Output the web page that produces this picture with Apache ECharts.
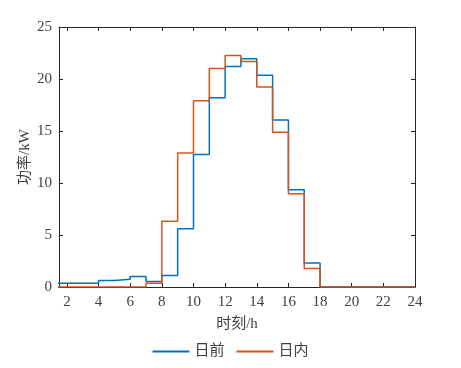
<!DOCTYPE html>
<html><head><meta charset="utf-8">
<script src="https://cdn.jsdelivr.net/npm/echarts@6/dist/echarts.min.js"></script>
<style>html,body{margin:0;padding:0;background:#fff}#c{width:461px;height:368px}</style>
</head><body><div id="c"></div>
<script>
// Hour start of each step (1..24)
var hours = [1,2,3,4,5,6,7,8,9,10,11,12,13,14,15,16,17,18,19,20,21,22,23,24];
var dayAhead = [0.35,0.35,0.35,0.62,0.74,1.0,0.52,1.1,5.6,12.75,18.2,21.2,21.94,20.37,16.06,9.35,2.3,0,0,0,0,0,0,0];
var intraDay = [0,0,0,0,0,0,0.36,6.33,12.88,17.9,21.0,22.25,21.68,19.24,14.87,8.96,1.77,0,0,0,0,0,0,0];
var xTicks = [2,4,6,8,10,12,14,16,18,20,22,24];
var yTicks = [0,5,10,15,20,25];
var seriesNames = ['日前','日内'];

function pairs(vals){ return hours.map(function(h,i){ return [h, vals[i]]; }); }
var serif = '"Liberation Serif","Times New Roman",serif';
var cjk = '"Liberation Serif","Noto Sans CJK SC",serif';
var axisCol = '#262626';

var chart = echarts.init(document.getElementById('c'), null, {renderer:'canvas'});
var gridPos = {left:59, right:46, top:27, bottom:81, containLabel:false};
chart.setOption({
  animation:false,
  grid: gridPos,
  legend:{
    data:seriesNames, bottom:4, left:'center', itemWidth:37, itemHeight:2, itemGap:12,
    icon:'rect',
    textStyle:{fontFamily:cjk, fontSize:15, color:'#404040'}
  },
  xAxis:[{
    type:'value', min:1.5, max:24,
    name:'时刻/h', nameLocation:'middle', nameGap:30,
    nameTextStyle:{fontFamily:cjk, fontSize:15, color:'#404040'},
    axisLine:{show:true, onZero:false, lineStyle:{color:axisCol, width:1}},
    axisTick:{show:true, inside:true, length:4, customValues:xTicks, lineStyle:{color:axisCol}},
    axisLabel:{customValues:xTicks, fontFamily:serif, fontSize:15, color:'#404040', margin:8},
    splitLine:{show:false}
  },{
    type:'value', min:1.5, max:24, position:'top',
    axisLine:{show:true, onZero:false, lineStyle:{color:axisCol, width:1}},
    axisTick:{show:true, inside:true, length:4, customValues:xTicks, lineStyle:{color:axisCol}},
    axisLabel:{show:false}, splitLine:{show:false}
  }],
  yAxis:[{
    type:'value', min:0, max:25, interval:5,
    name:'功率/kW', nameLocation:'middle', nameGap:26, nameRotate:90, nameMoveOverlap:false,
    nameTextStyle:{fontFamily:cjk, fontSize:15, color:'#404040'},
    axisLine:{show:true, lineStyle:{color:axisCol, width:1}},
    axisTick:{show:true, inside:true, length:4, lineStyle:{color:axisCol}},
    axisLabel:{fontFamily:serif, fontSize:15, color:'#404040', margin:7},
    splitLine:{show:false}
  },{
    type:'value', min:0, max:25, interval:5, position:'right',
    axisLine:{show:true, lineStyle:{color:axisCol, width:1}},
    axisTick:{show:true, inside:true, length:4, lineStyle:{color:axisCol}},
    axisLabel:{show:false}, splitLine:{show:false}
  }],
  series:[
    {name:seriesNames[0], type:'line', step:'end', data:pairs(dayAhead), showSymbol:false, symbol:'none',
     lineStyle:{color:'#0072BD', width:1.5}, itemStyle:{color:'#0072BD'}, clip:true},
    {name:seriesNames[1], type:'line', step:'end', data:pairs(intraDay), showSymbol:false, symbol:'none',
     lineStyle:{color:'#D95319', width:1.5}, itemStyle:{color:'#D95319'}, clip:true}
  ]
});
</script></body></html>
